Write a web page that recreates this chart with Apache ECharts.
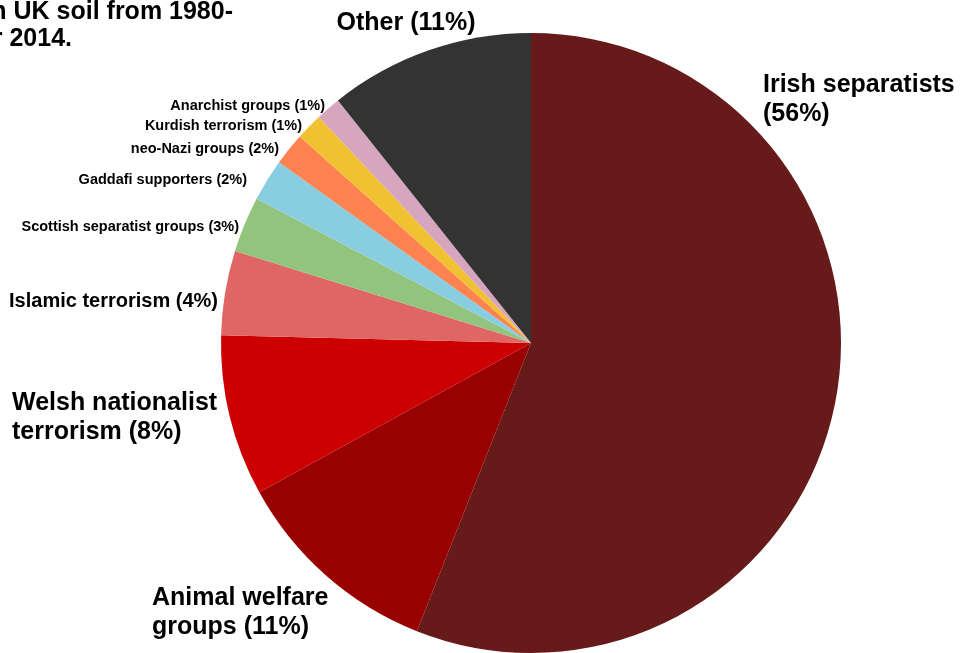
<!DOCTYPE html>
<html>
<head>
<meta charset="utf-8">
<script src="https://cdn.jsdelivr.net/npm/echarts@6/dist/echarts.min.js"></script>
<style>
  html, body { margin: 0; padding: 0; background: #fff; }
  #chart { width: 961px; height: 653px; }
</style>
</head>
<body>
<div id="chart"></div>
<script>
// Slices, clockwise from 12 o'clock (shares, %)
const groups = [
  "Irish separatists", "Animal welfare groups", "Welsh nationalist terrorism",
  "Islamic terrorism", "Scottish separatist groups", "Gaddafi supporters",
  "neo-Nazi groups", "Kurdish terrorism", "Anarchist groups", "Other"
];
const shares = [56, 11, 8.4, 4.4, 2.9, 2.2, 1.7, 1.4, 1.3, 10.7];
const labels = [
  "Irish separatists\n(56%)", "Animal welfare\ngroups (11%)", "Welsh nationalist\nterrorism (8%)",
  "Islamic terrorism (4%)", "Scottish separatist groups (3%)", "Gaddafi supporters (2%)",
  "neo-Nazi groups (2%)", "Kurdish terrorism (1%)", "Anarchist groups (1%)", "Other (11%)"
];
const titleLines = ["n UK soil from 1980-", "r 2014."];

const COLORS = ["#661a1a", "#990000", "#cc0000", "#e06666", "#93c47d",
                "#88cde0", "#ff8250", "#f0c232", "#d5a6bd", "#333333"];

// where each label sits (x, y, align, font size) - picked by eye
const LABEL_POS = [
  [763, 100, "left", 25],
  [152, 613, "left", 25],
  [12, 418, "left", 25],
  [218, 301, "right", 20],
  [239, 227, "right", 14.5],
  [247, 180, "right", 14.5],
  [279, 149, "right", 14.5],
  [302, 126, "right", 14.5],
  [325, 106, "right", 14.5],
  [406, 23, "center", 25]
];

const FONT = "'Liberation Sans', Arial, sans-serif";

const chart = echarts.init(document.getElementById("chart"), null, { renderer: "canvas" });

const data = groups.map((g, i) => ({
  name: g,
  value: shares[i],
  itemStyle: { color: COLORS[i] },
  label: { fontSize: LABEL_POS[i][3], lineHeight: Math.round(LABEL_POS[i][3] * 1.17) }
}));

chart.setOption({
  animation: false,
  backgroundColor: "#fff",
  graphic: titleLines.map((t, i) => ({
    type: "text",
    right: i === 0 ? 961 - 233 : 961 - 72,
    top: i === 0 ? 0 : 27,
    style: {
      text: t,
      font: "bold 25px " + FONT,
      fill: "#000"
    }
  })),
  series: [{
    type: "pie",
    center: [531, 343],
    radius: [0, 310],
    startAngle: 90,
    clockwise: true,
    avoidLabelOverlap: false,
    silent: true,
    itemStyle: { borderWidth: 0 },
    label: {
      show: true,
      position: "outside",
      color: "#000",
      fontWeight: "bold",
      fontFamily: FONT,
      formatter: p => labels[p.dataIndex]
    },
    labelLine: { show: false },
    labelLayout: p => {
      const L = LABEL_POS[p.dataIndex];
      return { x: L[0], y: L[1], align: L[2], verticalAlign: "middle" };
    },
    data: data
  }]
});
</script>
</body>
</html>
